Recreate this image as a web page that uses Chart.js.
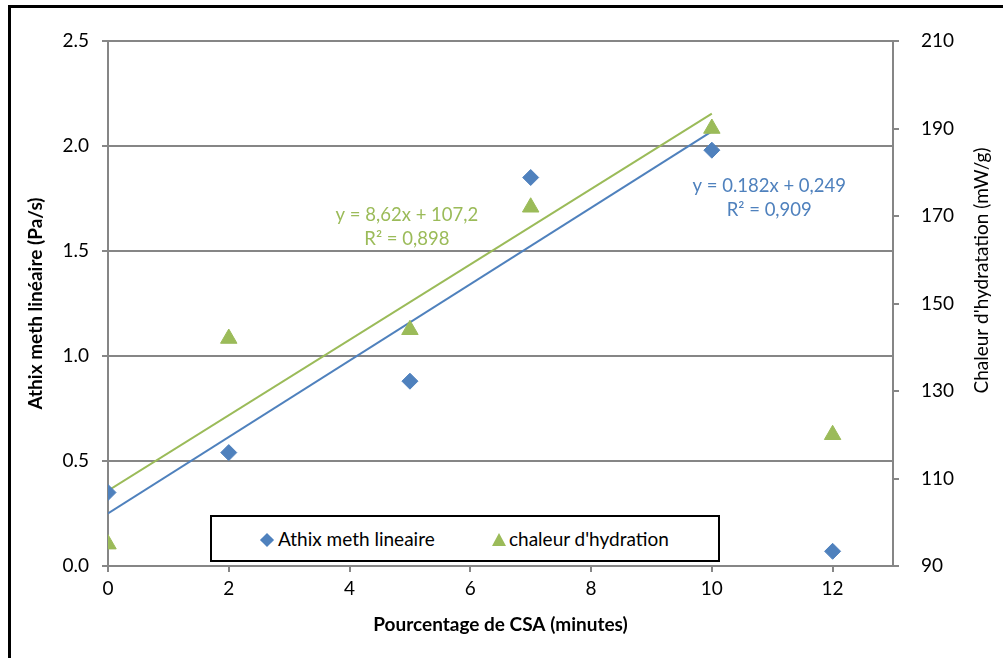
<!DOCTYPE html>
<html>
<head>
<meta charset="utf-8">
<script src="https://cdn.jsdelivr.net/npm/chart.js@4/dist/chart.umd.min.js"></script>
<style>
  html, body { margin: 0; padding: 0; background: #fff; }
  #wrap { position: relative; width: 1006px; height: 658px; overflow: hidden; }
  #frame { position: absolute; left: 8px; top: 5px; width: 995px; height: 700px;
           border-top: 3px solid #000; border-left: 3px solid #000; box-sizing: border-box; }
  #legend { position: absolute; left: 210px; top: 515px; width: 510px; height: 47px;
            border: 2px solid #000; box-sizing: border-box; background: #fff;
            font-family: Lato, "Open Sans", sans-serif; font-size: 19px; color: #000; }
  .item { position: absolute; top: 0; height: 43px; line-height: 43px; }
  .dia { display: inline-block; width: 10px; height: 10px; background: #4f81bd;
         transform: rotate(45deg); margin-right: 6px; vertical-align: 1px; }
  .tri { display: inline-block; width: 0; height: 0; border-left: 7px solid transparent;
         border-right: 7px solid transparent; border-bottom: 13px solid #9bbb59;
         margin-right: 3px; vertical-align: 0px; }
</style>
</head>
<body>
<div id="wrap">
  <canvas id="chart" width="1006" height="658"></canvas>
  <div id="frame"></div>
  <div id="legend">
    <div class="item" style="left:50px"><span class="dia"></span>Athix meth lineaire</div>
    <div class="item" style="left:280px"><span class="tri"></span>chaleur d'hydration</div>
  </div>
</div>
<script>
// values
const xValues = [0, 2, 5, 7, 10, 12];
const athix = [0.35, 0.54, 0.88, 1.85, 1.98, 0.07];
const chaleur = [95, 142, 144, 172, 190, 120];

// trendline end points (x = 0 and x = 10)
const trendX = [0, 10];
const athixTrend = [0.25, 2.07];
const chaleurTrend = [107.2, 193.4];

const blue = "#4f81bd";
const green = "#9bbb59";
const axisGrey = "#868686";
const font = "Lato, 'Open Sans', sans-serif";

const toPoints = (xs, ys) => xs.map((x, i) => ({ x, y: ys[i] }));

// trendline equations written on the chart
const notes = [
  { lines: ["y = 8,62x + 107,2", "R\u00b2 = 0,898"], x: 4.95, y: 1.67, color: green },
  { lines: ["y = 0.182x + 0,249", "R\u00b2 = 0,909"], x: 10.95, y: 1.81, color: blue },
];
const rightTitle = "Chaleur d'hydratation (mW/g)";

const notePlugin = {
  id: "notes",
  afterDatasetsDraw(chart) {
    const { ctx, scales } = chart;
    ctx.save();
    ctx.font = "18.5px " + font;
    ctx.textAlign = "center";
    ctx.textBaseline = "middle";
    notes.forEach((n) => {
      const px = scales.x.getPixelForValue(n.x);
      const py = scales.y.getPixelForValue(n.y);
      ctx.fillStyle = n.color;
      n.lines.forEach((t, i) => ctx.fillText(t, px, py + i * 24));
    });
    // right axis title, read bottom to top like the left one
    const r = scales.y2;
    ctx.translate(982, (r.top + r.bottom) / 2 - 33);
    ctx.rotate(-Math.PI / 2);
    ctx.fillStyle = "#000";
    ctx.font = "19px " + font;
    ctx.fillText(rightTitle, 0, 0);
    ctx.restore();
  },
};

new Chart(document.getElementById("chart"), {
  type: "scatter",
  data: {
    datasets: [
      {
        label: "Athix meth lineaire",
        data: toPoints(xValues, athix),
        yAxisID: "y",
        pointStyle: "rectRot",
        pointRadius: 8,
        backgroundColor: blue,
        borderColor: blue,
        borderWidth: 1,
      },
      {
        label: "chaleur d'hydration",
        data: toPoints(xValues, chaleur),
        yAxisID: "y2",
        pointStyle: "triangle",
        pointRadius: 9.5,
        backgroundColor: green,
        borderColor: green,
        borderWidth: 1,
      },
      {
        type: "line",
        label: "trend athix",
        data: toPoints(trendX, athixTrend),
        yAxisID: "y",
        borderColor: blue,
        borderWidth: 2,
        pointRadius: 0,
        fill: false,
      },
      {
        type: "line",
        label: "trend chaleur",
        data: toPoints(trendX, chaleurTrend),
        yAxisID: "y2",
        borderColor: green,
        borderWidth: 2,
        pointRadius: 0,
        fill: false,
      },
    ],
  },
  options: {
    responsive: false,
    animation: false,
    layout: { padding: { left: 8, top: 41, right: 0, bottom: 0 } },
    plugins: { legend: { display: false }, tooltip: { enabled: false } },
    scales: {
      x: {
        type: "linear",
        min: 0,
        max: 13,
        afterFit: (s) => { s.height = 92; },
        ticks: { stepSize: 2, includeBounds: false, padding: 5, color: "#000", font: { family: font, size: 19 } },
        grid: { drawOnChartArea: false, color: axisGrey, tickLength: 6, lineWidth: 2 },
        border: { color: axisGrey, width: 2 },
        title: {
          display: true,
          text: "Pourcentage de CSA (minutes)",
          color: "#000",
          font: { family: font, size: 19, weight: "bold" },
          padding: { top: 0, bottom: 22 },
        },
      },
      y: {
        position: "left",
        min: 0,
        max: 2.5,
        afterFit: (s) => { s.width = 100; },
        ticks: {
          stepSize: 0.5,
          padding: 13,
          color: "#000",
          font: { family: font, size: 19 },
          callback: (v) => v.toFixed(1),
        },
        grid: { color: axisGrey, tickLength: 6, lineWidth: 2 },
        border: { color: axisGrey, width: 2 },
        title: {
          display: true,
          text: "Athix meth linéaire (Pa/s)",
          color: "#000",
          font: { family: font, size: 19, weight: "bold" },
          padding: { top: 16, bottom: 0 },
        },
      },
      y2: {
        position: "right",
        min: 90,
        max: 210,
        afterFit: (s) => { s.width = 113; },
        ticks: { stepSize: 20, padding: 22, color: "#000", font: { family: font, size: 19 } },
        grid: { drawOnChartArea: false, color: axisGrey, tickLength: 6, lineWidth: 2 },
        border: { color: axisGrey, width: 2 },
      },
    },
  },
  plugins: [notePlugin],
});
</script>
</body>
</html>
